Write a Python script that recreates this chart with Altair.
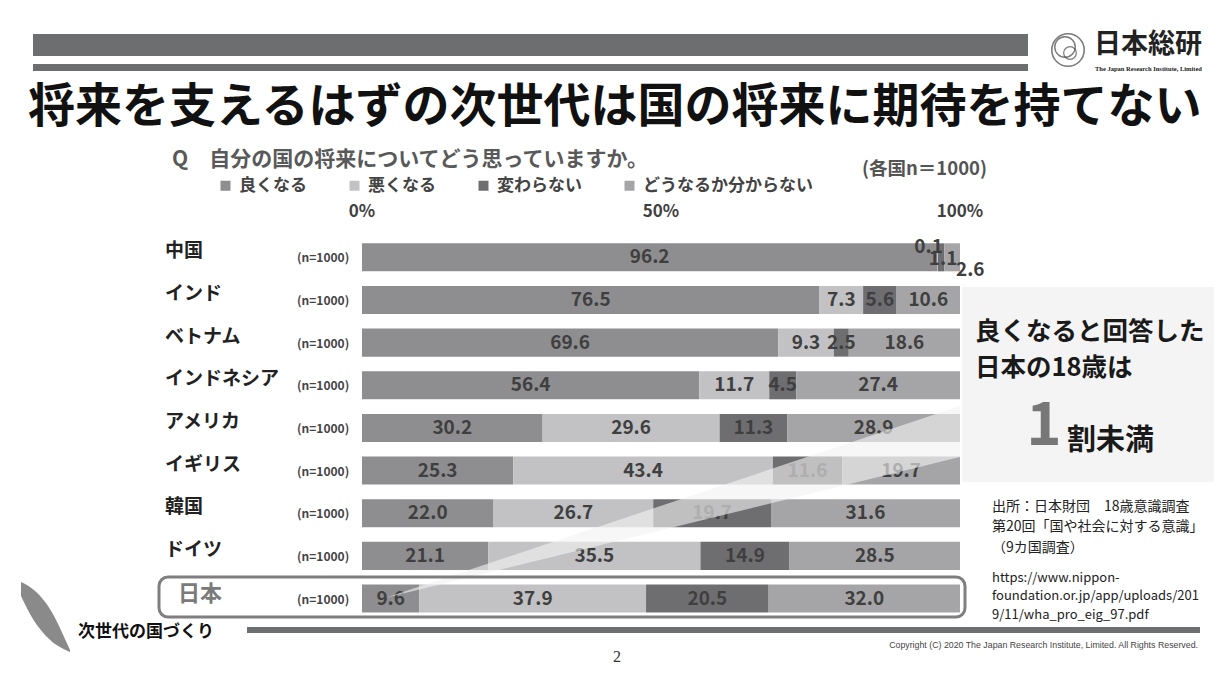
import altair as alt
import pandas as pd

W, H = 1206, 666
FONT = "Noto Sans CJK JP"

# ---------------- data ----------------
countries = ["中国", "インド", "ベトナム", "インドネシア", "アメリカ", "イギリス", "韓国", "ドイツ", "日本"]
categories = ["良くなる", "悪くなる", "変わらない", "どうなるか分からない"]
good = [96.2, 76.5, 69.6, 56.4, 30.2, 25.3, 22.0, 21.1, 9.6]
bad = [0.1, 7.3, 9.3, 11.7, 29.6, 43.4, 26.7, 35.5, 37.9]
same = [1.1, 5.6, 2.5, 4.5, 11.3, 11.6, 19.7, 14.9, 20.5]
unknown = [2.6, 10.6, 18.6, 27.4, 28.9, 19.7, 31.6, 28.5, 32.0]
colors = ["#8e8e90", "#c2c2c4", "#6e6e70", "#a5a5a7"]
ticks = [0, 50, 100]
tick_labels = ["0%", "50%", "100%"]
n_label = "(n=1000)"

rows = []
for i, c in enumerate(countries):
    start = 0.0
    for j, (cat, vals) in enumerate(zip(categories, [good, bad, same, unknown])):
        v = vals[i]
        rows.append(dict(country=c, category=cat, order=j, value=v,
                         start=start, end=start + v, mid=start + v / 2,
                         label=f"{v:.1f}"))
        start += v
df = pd.DataFrame(rows)
df_c = pd.DataFrame({"country": countries, "n": [n_label] * len(countries)})
df_t = pd.DataFrame({"tick": ticks, "label": tick_labels})
one = pd.DataFrame({"a": [0]})

xs = alt.Scale(domain=[0, 100], range=[354, 952], nice=False, zero=False)
ys = alt.Scale(domain=countries, range=[228, 611.85], paddingInner=0.343, paddingOuter=0.1715)
pxx = alt.Scale(domain=[0, W], range=[0, W], nice=False, zero=False)
pxy = alt.Scale(domain=[0, H], range=[0, H], nice=False, zero=False)


def rect(x, x2, y, y2, **kw):
    return alt.Chart(one).mark_rect(**kw).encode(
        x=alt.value(x), x2=alt.value(x2), y=alt.value(y), y2=alt.value(y2))


def text(t, x, y, **kw):
    base = dict(font=FONT, align="left", baseline="middle")
    base.update(kw)
    return alt.Chart(one).mark_text(text=t, **base).encode(x=alt.value(x), y=alt.value(y))


# ---------------- bars ----------------
bars = alt.Chart(df).mark_bar().encode(
    x=alt.X("start:Q", scale=xs, axis=None),
    x2="end:Q",
    y=alt.Y("country:N", scale=ys, axis=None),
    color=alt.Color("category:N", scale=alt.Scale(domain=categories, range=colors),
                    legend=alt.Legend(orient="none", legendX=209, legendY=169,
                                      direction="horizontal", title=None,
                                      symbolType="square", symbolSize=100,
                                      symbolStrokeWidth=0, labelFont=FONT,
                                      labelFontSize=17, labelFontWeight="bold",
                                      labelColor="#444444", columnPadding=39,
                                      labelLimit=300, labelOffset=5, padding=0)),
    order="order:Q",
)

label_style = dict(font=FONT, fontSize=19, fontWeight="bold", color="#3f3f3f")
main_labels = alt.Chart(df).transform_filter(
    "!(datum.country == '中国' && datum.order > 0)"
).mark_text(**label_style).encode(
    x=alt.X("mid:Q", scale=xs, axis=None),
    y=alt.Y("country:N", scale=ys, axis=None),
    text="label:N",
)


def china_label(order, dx, dy):
    return alt.Chart(df).transform_filter(
        f"datum.country == '中国' && datum.order == {order}"
    ).mark_text(dx=dx, dy=dy, **label_style).encode(
        x=alt.X("mid:Q", scale=xs, axis=None),
        y=alt.Y("country:N", scale=ys, axis=None),
        text="label:N",
    )


china_small = [china_label(1, -9, -10), china_label(2, 2, 2), china_label(3, 18, 13)]

names = alt.Chart(df_c).transform_filter("datum.country != '日本'").mark_text(
    font=FONT, fontSize=19, fontWeight="bold", color="#222222", align="left", dy=-6
).encode(x=alt.value(157), y=alt.Y("country:N", scale=ys, axis=None), text="country:N")

name_jp = alt.Chart(df_c).transform_filter("datum.country == '日本'").mark_text(
    font=FONT, fontSize=22, fontWeight="bold", color="#7a7a7a", align="left", dy=-5
).encode(x=alt.value(170), y=alt.Y("country:N", scale=ys, axis=None), text="country:N")

nlabels = alt.Chart(df_c).mark_text(
    font=FONT, fontSize=12, fontWeight="bold", color="#444444", align="left", dy=1
).encode(x=alt.value(289), y=alt.Y("country:N", scale=ys, axis=None), text="n:N")

tick_text = alt.Chart(df_t).mark_text(
    font=FONT, fontSize=17, fontWeight="bold", color="#404040"
).encode(x=alt.X("tick:Q", scale=xs, axis=None), y=alt.value(204), text="label:N")

# ---------------- callout ----------------
callout_box = rect(954, 1206, 279, 474, color="#f4f4f4")
wedge_df = pd.DataFrame({"x": [377, 952], "yt": [590, 398], "yb": [590, 449]})
wedge = alt.Chart(wedge_df).mark_area(color="#f2f2f2", opacity=0.62).encode(
    x=alt.X("x:Q", scale=pxx, axis=None),
    y=alt.Y("yt:Q", scale=pxy, axis=None),
    y2="yb:Q",
)
jp_box = rect(151, 957, 569, 609, filled=False, stroke="#7f7f7f", strokeWidth=3, cornerRadius=9)

callout_texts = [
    text("良くなると回答した", 967, 323.5, fontSize=25.5, fontWeight="bold", color="#1a1a1a"),
    text("日本の18歳は", 967, 360, fontSize=25.5, fontWeight="bold", color="#1a1a1a"),
    text("1", 1036, 437, fontSize=60, fontWeight="bold", color="#777777", align="center", baseline="alphabetic"),
    text("割未満", 1059, 433, fontSize=29, fontWeight="bold", color="#1a1a1a"),
    text("出所：日本財団　18歳意識調査", 984, 499, fontSize=14, color="#222222"),
    text("第20回「国や社会に対する意識」", 984, 519, fontSize=14, color="#222222"),
    text("（9カ国調査）", 984, 540, fontSize=14, color="#222222"),
    text("https://www.nippon-", 984, 570, fontSize=13, color="#222222"),
    text("foundation.or.jp/app/uploads/201", 984, 588, fontSize=13, color="#222222"),
    text("9/11/wha_pro_eig_97.pdf", 984, 607, fontSize=13, color="#222222"),
]

# ---------------- header / footer ----------------
header = [
    rect(25, 1020, 26, 48, color="#6d6e70"),
    rect(25, 1020, 56, 63, color="#6d6e70"),
    text("日本総研", 1086, 37, fontSize=27, fontWeight="bold", color="#222222"),
    text("The Japan Research Institute, Limited", 1087, 60.5, font="Liberation Sans Narrow",
         fontSize=6.5, fontWeight="bold", color="#222222"),
    alt.Chart(one).mark_point(shape="circle", filled=False, stroke="#444444", strokeWidth=1.6, size=1050)
    .encode(x=alt.value(1060), y=alt.value(42)),
    alt.Chart(one).mark_point(shape="circle", filled=False, stroke="#444444", strokeWidth=1.4, size=420)
    .encode(x=alt.value(1057), y=alt.value(39)),
    alt.Chart(one).mark_point(shape="circle", filled=False, stroke="#444444", strokeWidth=1.2, size=160)
    .encode(x=alt.value(1062), y=alt.value(45)),
    text("将来を支えるはずの次世代は国の将来に期待を持てない", 20, 100, fontSize=47,
         fontWeight="bold", color="#111111"),
    text("Q　自分の国の将来についてどう思っていますか。", 164, 152, fontSize=21,
         fontWeight="bold", color="#595959"),
    text("(各国n＝1000)", 854, 161, fontSize=18.5, fontWeight="bold", color="#555555"),
]

swoosh_df = pd.DataFrame({"x": [13, 22, 40, 62], "yt": [574, 579, 598, 642], "yb": [588, 606, 630, 644]})
swoosh = alt.Chart(swoosh_df).mark_area(color="#8a8a8a", interpolate="monotone").encode(
    x=alt.X("x:Q", scale=pxx, axis=None),
    y=alt.Y("yt:Q", scale=pxy, axis=None),
    y2="yb:Q",
)

footer = [
    swoosh,
    text("次世代の国づくり", 70, 624, fontSize=17, fontWeight="bold", color="#111111"),
    rect(239, 1192, 619, 625, color="#6d6e70"),
    text("2", 609, 649, font="Liberation Serif", fontSize=16, color="#333333", align="center"),
    text("Copyright (C) 2020 The Japan Research Institute, Limited. All Rights Reserved.",
         1190, 637, font="Liberation Sans", fontSize=8.8, color="#444444", align="right"),
]

layers = ([bars, main_labels] + china_small + [callout_box, wedge, jp_box, names, name_jp, nlabels, tick_text]
          + callout_texts + header + footer)

chart = alt.layer(*layers).resolve_scale(
    x="independent", y="independent"
).properties(
    width=W, height=H, padding=0, autosize=alt.AutoSizeParams(type="none"),
    background="white",
).configure_view(stroke=None)

chart.save("out.html", embed_options={"renderer": "svg", "actions": False})
